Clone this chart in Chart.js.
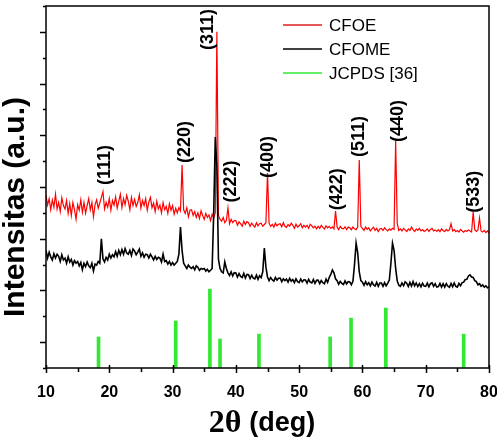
<!DOCTYPE html>
<html>
<head>
<meta charset="utf-8">
<script src="https://cdn.jsdelivr.net/npm/chart.js@4.4.0/dist/chart.umd.min.js"></script>
<style>
  html, body { margin: 0; padding: 0; background: #fff; }
  #wrap { width: 497px; height: 438px; }
</style>
</head>
<body>
<div id="wrap"><canvas id="xrdChart"></canvas></div>
<script>
// scan grid: 2theta from 10 to 80 deg, 0.25 deg per step
const scanStart = 10;
const scanStep = 0.25;

// CFOE intensity (a.u.), one row per degree
const cfoeIntensity = [
  668, 630, 655, 612,  650, 622, 672, 615,  640, 605, 658, 628,  615, 648, 598, 636,
  590, 640, 612, 575,  632, 610, 650, 602,  640, 598, 628, 655,  612, 640, 585, 632,
  650, 618, 638, 660,  682, 615, 640, 622,  655, 610, 648, 630,  662, 618, 645, 672,
  620, 655, 632, 668,  645, 612, 660, 628,  652, 625, 640, 670,  618, 648, 628, 655,
  610, 642, 660, 620,  638, 605, 645, 615,  630, 600, 640, 612,  625, 598, 635, 610,
  628, 595, 618, 600,  620, 608, 785, 612,  598, 620, 585, 610,  612, 590, 605, 582,
  600, 578, 608, 590,  575, 598, 582, 592,  570, 595, 580, 600,  1300, 590, 575, 568,
  582, 562, 570, 619,  558, 575, 562, 570,  570, 552, 565, 558,  548, 568, 555, 566,
  562, 548, 560, 552,  545, 562, 550, 558,  560, 548, 555, 562,  754, 560, 548, 556,
  545, 560, 550, 556,  558, 546, 562, 548,  544, 555, 548, 560,  552, 540, 556, 545,
  550, 558, 542, 552,  545, 552, 540, 556,  550, 542, 548, 538,  548, 540, 552, 544,
  538, 550, 542, 548,  540, 546, 538, 607,  545, 535, 548, 540,  538, 546, 535, 545,
  542, 535, 545, 538,  535, 545, 804, 548,  540, 532, 545, 536,  542, 530, 538, 544,
  532, 540, 528, 538,  540, 532, 542, 535,  530, 538, 533, 540,  536, 878, 560, 532,
  538, 530, 540, 534,  528, 538, 532, 545,  535, 528, 538, 532,  540, 530, 535, 528,
  532, 538, 528, 536,  540, 530, 534, 528,  535, 527, 538, 531,  528, 536, 530, 534,
  558, 530, 535, 527,  532, 526, 536, 530,  525, 532, 528, 534,  530, 526, 603, 535,
  528, 534, 580, 530,  526, 532, 524, 530,
  522
];

// CFOME intensity (a.u.), one row per degree
const cfomeIntensity = [
  455, 425, 448, 430,  418, 442, 425, 440,  432, 412, 438, 418,  425, 405, 430, 410,
  420, 398, 415, 405,  412, 395, 408, 380,  405, 392, 410, 395,  388, 405, 375, 402,
  398, 412, 405, 500,  422, 410, 428, 418,  440, 425, 438, 430,  450, 432, 455, 438,
  458, 440, 462, 445,  440, 455, 435, 460,  452, 438, 448, 460,  432, 445, 428, 440,
  438, 425, 440, 430,  418, 432, 420, 428,  425, 410, 440, 412,  415, 402, 412, 398,
  408, 398, 405, 412,  440, 545, 455, 405,  395, 385, 398, 390,  385, 392, 380, 395,
  390, 378, 385, 382,  385, 375, 382, 372,  378, 385, 600, 893,  780, 420, 385, 372,
  368, 410, 385, 368,  358, 372, 356, 369,  368, 352, 365, 354,  350, 366, 348, 362,
  361, 346, 359, 348,  345, 359, 343, 357,  350, 372, 464, 390,  352, 338, 350, 341,
  336, 350, 340, 347,  348, 334, 345, 338,  344, 332, 347, 336,  342, 330, 345, 334,
  330, 344, 333, 341,  340, 328, 343, 332,  329, 342, 327, 339,  340, 326, 338, 330,
  326, 344, 331, 350,  362, 379, 368, 345,  338, 324, 335, 327,  323, 337, 325, 334,
  333, 322, 335, 400,  483, 445, 372, 338,  332, 320, 334, 322,  330, 318, 332, 321,
  317, 331, 316, 329,  329, 316, 330, 318,  328, 340, 405, 483,  455, 385, 336, 320,
  316, 329, 318, 333,  328, 315, 331, 317,  334, 318, 329, 315,  326, 314, 328, 317,
  316, 328, 314, 326,  329, 316, 326, 313,  315, 327, 313, 326,  313, 326, 316, 312,
  327, 314, 329, 316,  313, 327, 318, 330,  332, 342, 343, 356,  360, 352, 350, 338,
  334, 322, 326, 316,  321, 313, 318, 310,
  313
];

// JCPDS reference lines
const jcpdsAngles = [18.3, 30.5, 35.9, 37.5, 43.65, 54.9, 58.2, 63.7, 76.0];
const jcpdsHeights = [120, 182, 305, 112, 131, 120, 193, 232, 131];

// Miller index labels: text, 2theta, intensity at the foot of the label
const hklLabels = ['(111)', '(220)', '(311)', '(222)', '(400)', '(422)', '(511)', '(440)', '(533)'];
const hklAngles = [19.2, 31.8, 35.4, 39.1, 44.9, 55.8, 59.3, 65.5, 77.5];
const hklHeights = [708, 793, 1230, 640, 735, 610, 816, 874, 600];

function toPoints(values) {
    return values.map((v, i) => ({x: scanStart + i * scanStep, y: v}));
}

const sansFont = "'Liberation Sans', Arial, sans-serif";

const decorPlugin = {
    id: 'decor',
    afterDatasetsDraw(chart) {
        const ctx = chart.ctx;
        const area = chart.chartArea;
        const xs = chart.scales.x;
        const ys = chart.scales.y;

        ctx.save();
        ctx.strokeStyle = '#000';
        ctx.lineWidth = 1.5;
        ctx.strokeRect(area.left, area.top, area.right - area.left, area.bottom - area.top);

        // x ticks
        ctx.beginPath();
        for (let v = 10; v <= 80; v += 5) {
            const px = Math.round(xs.getPixelForValue(v)) + 0.5;
            if (v % 10 === 0) {
                ctx.moveTo(px, area.bottom - 3);
                ctx.lineTo(px, area.bottom + 5);
            } else {
                ctx.moveTo(px, area.bottom);
                ctx.lineTo(px, area.bottom + 4);
            }
        }
        // y ticks
        for (let v = 0; v <= 1400; v += 100) {
            const py = Math.round(ys.getPixelForValue(v)) + 0.5;
            const len = (v / 100) % 2 === 1 ? 6 : 3;
            ctx.moveTo(area.left, py);
            ctx.lineTo(area.left - len, py);
        }
        ctx.stroke();

        // hkl labels
        ctx.fillStyle = '#000';
        ctx.font = 'bold 18px ' + sansFont;
        ctx.textAlign = 'left';
        ctx.textBaseline = 'middle';
        hklLabels.forEach((t, i) => {
            ctx.save();
            ctx.translate(xs.getPixelForValue(hklAngles[i]), ys.getPixelForValue(hklHeights[i]));
            ctx.rotate(-Math.PI / 2);
            ctx.fillText(t, 0, 1);
            ctx.restore();
        });

        // legend
        ctx.font = '17px ' + sansFont;
        chart.data.datasets.forEach((ds, i) => {
            const y = 25 + i * 24;
            ctx.strokeStyle = ds.legendColor;
            ctx.lineWidth = 1.5;
            ctx.beginPath();
            ctx.moveTo(283, y);
            ctx.lineTo(322, y);
            ctx.stroke();
            ctx.fillStyle = '#000';
            ctx.fillText(ds.label, 329, y + 1);
        });

        // axis titles
        const yTitle = 'Intensitas (a.u.)';
        ctx.font = 'bold 30px ' + sansFont;
        const yw = ctx.measureText(yTitle).width;
        ctx.save();
        ctx.translate(16, 207);
        ctx.rotate(-Math.PI / 2);
        ctx.scale(220 / yw, 1);
        ctx.textAlign = 'center';
        ctx.fillText(yTitle, 0, 0);
        ctx.restore();

        const part1 = '2\u03B8';
        const part2 = '(deg)';
        ctx.textAlign = 'left';
        ctx.textBaseline = 'alphabetic';
        ctx.font = "bold 32px 'Liberation Serif', 'Times New Roman', serif";
        const w1 = ctx.measureText(part1).width;
        ctx.font = 'bold 27px ' + sansFont;
        const w2 = ctx.measureText(part2).width;
        const gap = 8;
        let startX = 262 - (w1 + gap + w2) / 2;
        ctx.font = "bold 32px 'Liberation Serif', 'Times New Roman', serif";
        ctx.fillText(part1, startX, 432);
        ctx.font = 'bold 27px ' + sansFont;
        ctx.fillText(part2, startX + w1 + gap, 431);
        ctx.restore();
    }
};

new Chart(document.getElementById('xrdChart'), {
    type: 'line',
    data: {
        datasets: [
            {
                label: 'CFOE',
                data: toPoints(cfoeIntensity),
                borderColor: '#ff0000',
                legendColor: '#e02020',
                borderWidth: 1.2,
                pointRadius: 0,
                order: 1
            },
            {
                label: 'CFOME',
                data: toPoints(cfomeIntensity),
                borderColor: '#000000',
                legendColor: '#000000',
                borderWidth: 1.6,
                pointRadius: 0,
                order: 0
            },
            {
                type: 'bar',
                label: 'JCPDS [36]',
                data: jcpdsAngles.map((a, i) => ({x: a, y: jcpdsHeights[i]})),
                backgroundColor: '#33e833',
                legendColor: '#33e833',
                barThickness: 3,
                order: 2
            }
        ]
    },
    options: {
        responsive: true,
        maintainAspectRatio: false,
        animation: false,
        layout: {padding: {left: 0, right: 8, top: 6, bottom: 0}},
        plugins: {
            legend: {display: false},
            tooltip: {enabled: false}
        },
        scales: {
            x: {
                type: 'linear',
                min: 10,
                max: 80,
                offset: false,
                grid: {display: false, drawTicks: false, offset: false},
                border: {display: false},
                ticks: {
                    stepSize: 10,
                    padding: 15,
                    maxRotation: 0,
                    color: '#000',
                    font: {family: sansFont, size: 16, weight: 'bold'}
                },
                afterFit(scale) {
                    scale.height = 70;
                    scale.paddingLeft = 0;
                    scale.paddingRight = 0;
                }
            },
            y: {
                min: 0,
                max: 1400,
                grid: {display: false, drawTicks: false},
                border: {display: false},
                ticks: {display: false},
                afterFit(scale) { scale.width = 46; }
            }
        }
    },
    plugins: [decorPlugin]
});
</script>
</body>
</html>
